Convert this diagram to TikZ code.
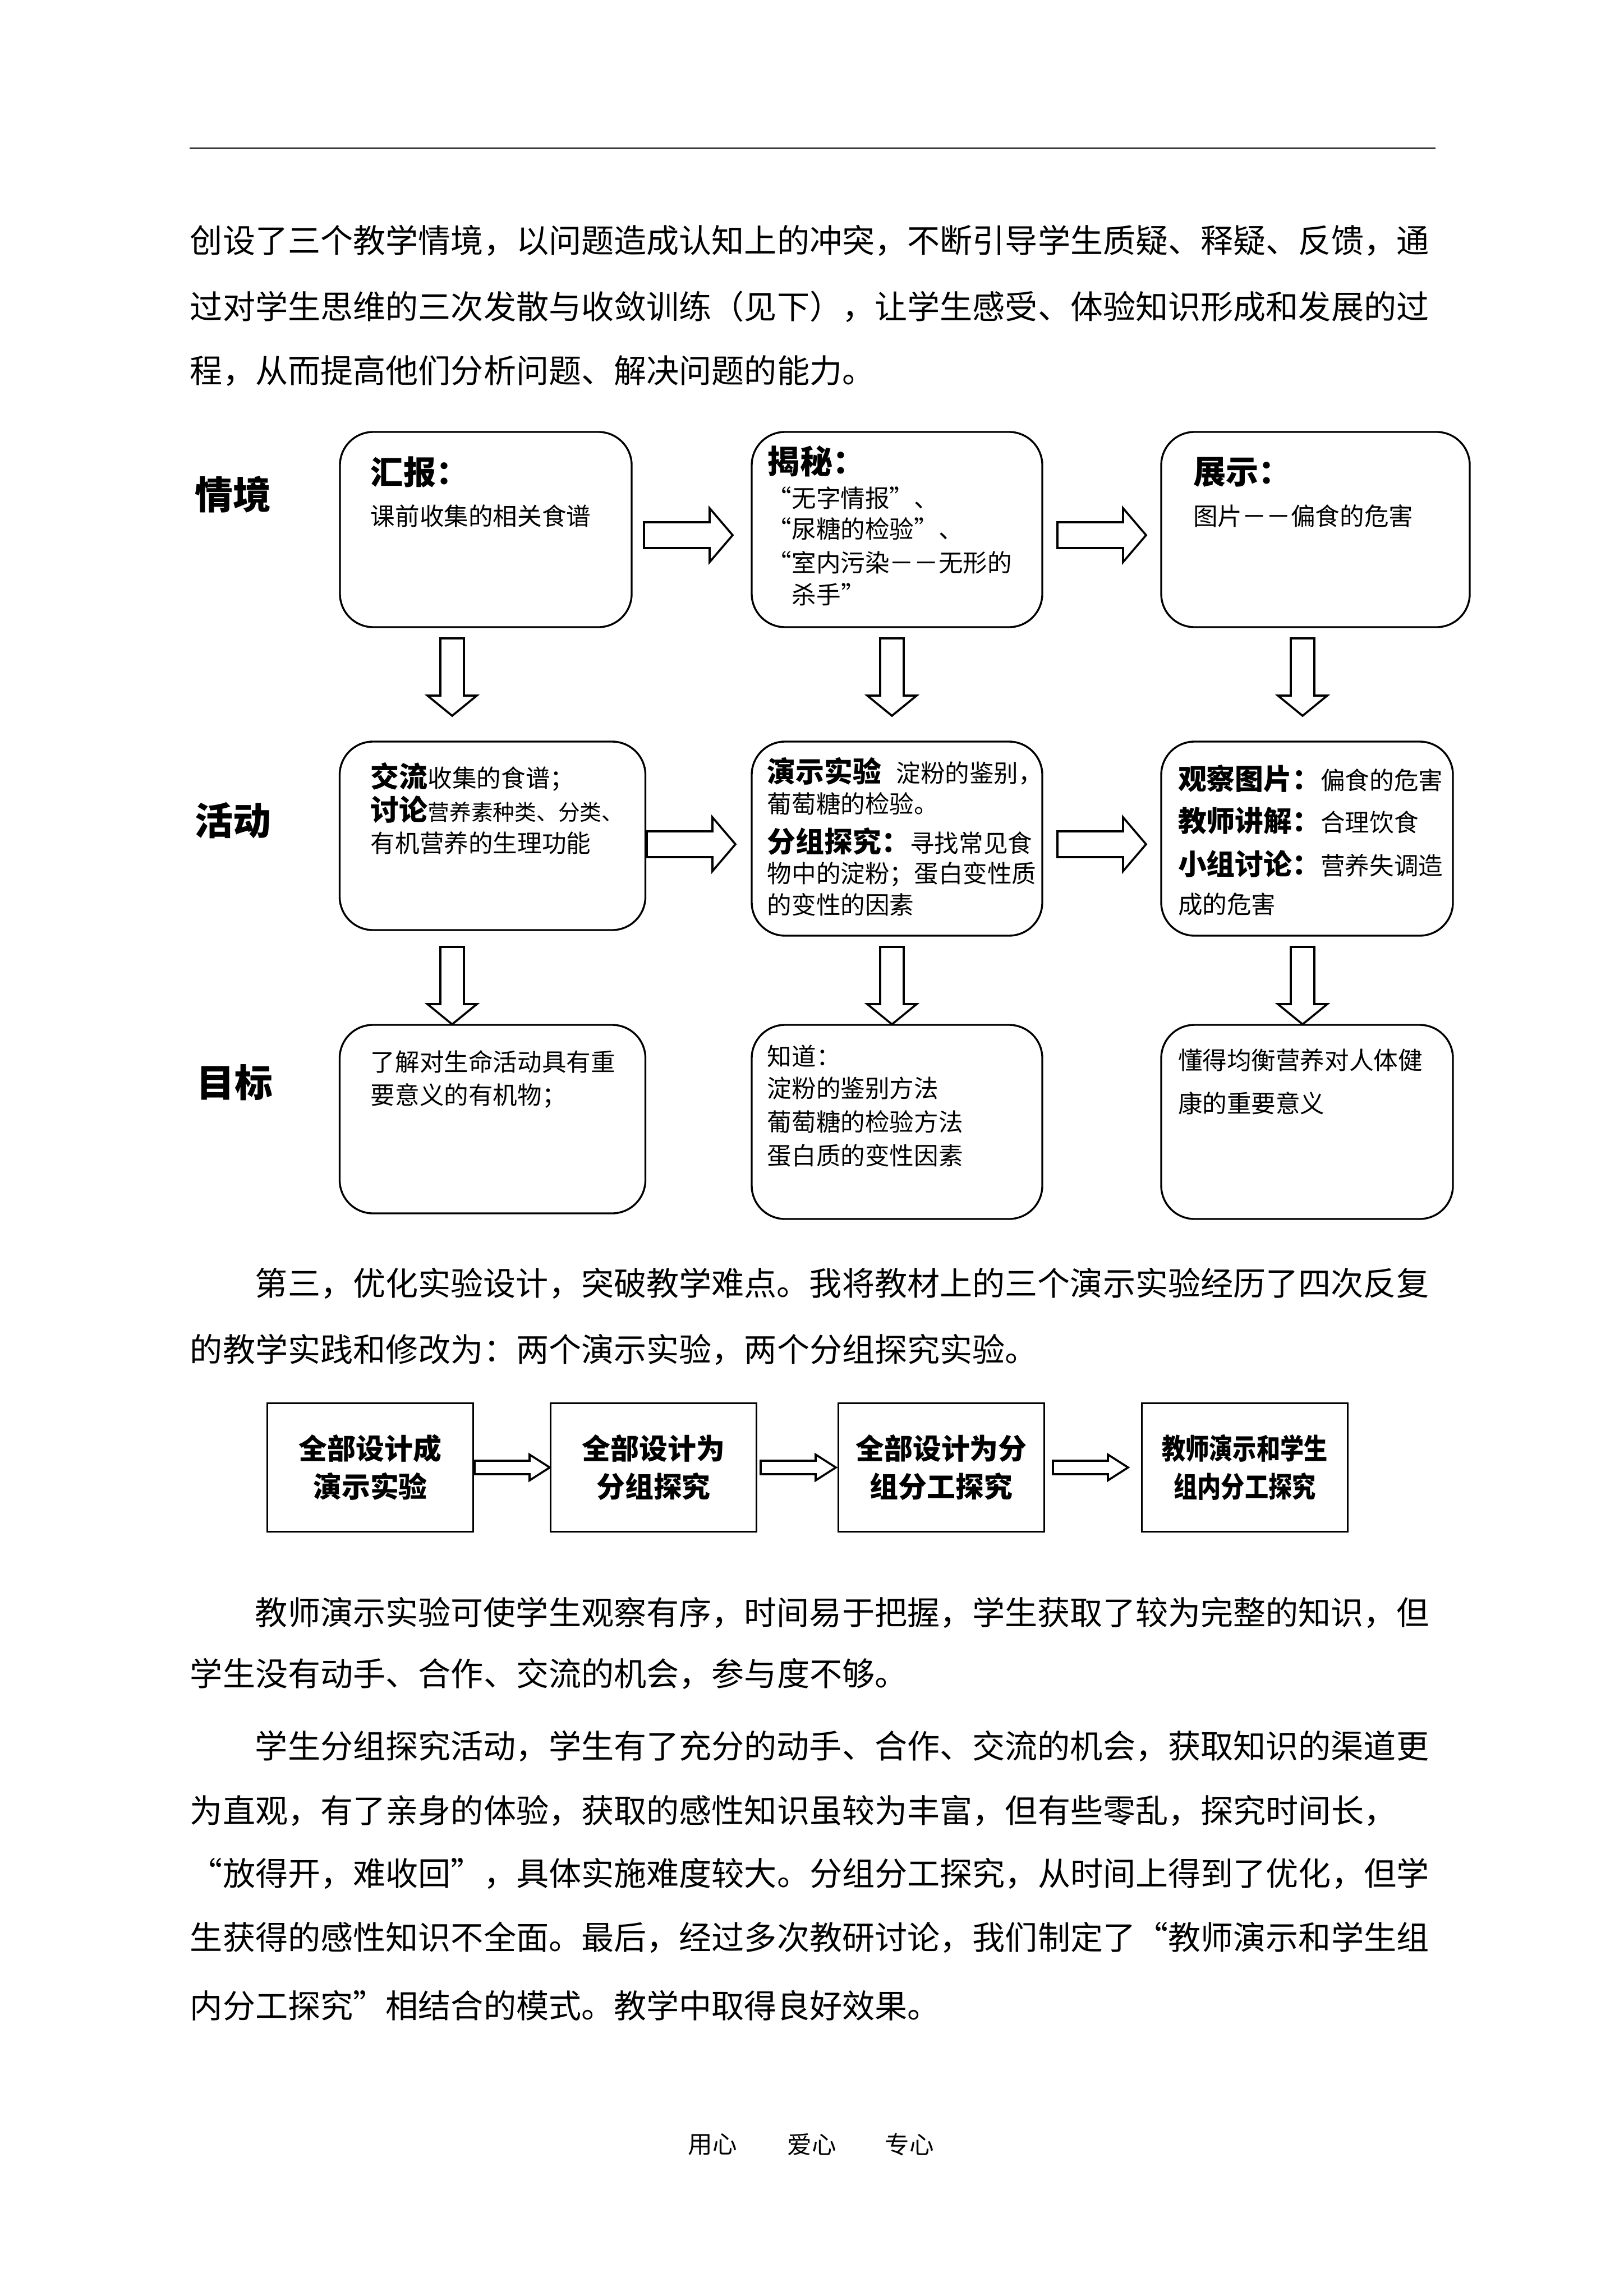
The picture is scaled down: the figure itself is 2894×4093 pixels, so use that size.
\documentclass[tikz,border=0pt]{standalone}
\usepackage{fontspec}
\setmainfont{Noto Sans CJK SC}
\newlength\pxu
\setlength\pxu{0.072564mm}
\tikzstyle{card}=[draw=black,line width=0.7pt,rounded corners=4.3mm,inner sep=0pt]
\tikzstyle{sbox}=[draw=black,line width=0.7pt,inner sep=0pt,align=center,
  font=\bfseries\fontsize{10.5pt}{14pt}\selectfont,
  minimum width=367*\pxu,minimum height=229*\pxu]
\tikzstyle{line}=[anchor=west,inner sep=0pt,font=\fontsize{9pt}{11pt}\selectfont]
\tikzstyle{para}=[anchor=west,inner sep=0pt,font=\fontsize{12pt}{14pt}\selectfont]
\tikzstyle{rowlabel}=[inner sep=0pt,font=\bfseries\fontsize{14pt}{16pt}\selectfont]
\tikzstyle{foot}=[inner sep=0pt,font=\fontsize{9pt}{11pt}\selectfont]
\tikzstyle{blk}=[draw=black,line width=0.75pt,fill=white]
\newcommand\hd[1]{{\bfseries\fontsize{10.5pt}{12pt}\selectfont #1}}
\newcommand\hdl[1]{{\bfseries\fontsize{12pt}{14pt}\selectfont #1}}
\newcommand\lqm{\makebox[1em][r]{“}}
\newcommand\rqm{\makebox[1em][l]{”}}
% hollow block arrows
\newcommand\rblk[2]{\draw[blk] (#1,#2-23) -- (#1+117,#2-23) -- (#1+117,#2-48)
  -- (#1+158,#2) -- (#1+117,#2+48) -- (#1+117,#2+23) -- (#1,#2+23) -- cycle;}
\newcommand\dblk[2]{\draw[blk] (#1-21,#2) -- (#1+21,#2) -- (#1+21,#2+102)
  -- (#1+44,#2+102) -- (#1,#2+138) -- (#1-44,#2+102) -- (#1-21,#2+102) -- cycle;}
\newcommand\sblk[2]{\draw[blk] (#1,#2-12) -- (#1+98,#2-12) -- (#1+98,#2-23)
  -- (#1+134,#2) -- (#1+98,#2+23) -- (#1+98,#2+12) -- (#1,#2+12) -- cycle;}
\begin{document}
\begin{tikzpicture}[x=0.072564mm,y=-0.072564mm]
  \useasboundingbox (0,0) rectangle (2894,4093);
  \draw[line width=0.6pt] (338,264) -- (2559,264);
  % opening paragraph
  \node[para] (p1) at (338,429) {创设了三个教学情境，以问题造成认知上的冲突，不断引导学生质疑、释疑、反馈，通};
  \node[para] (p2) at (338,547) {过对学生思维的三次发散与收敛训练（见下），让学生感受、体验知识形成和发展的过};
  \node[para] (p3) at (338,661) {程，从而提高他们分析问题、解决问题的能力。};
  % row labels
  \node[rowlabel] (qj) at (415,882) {情境};
  \node[rowlabel] (hd) at (415,1463) {活动};
  \node[rowlabel] (mb) at (418,1930) {目标};
  % boxes
  \node[card,minimum width=520*\pxu,minimum height=348*\pxu] (hb) at (866,944) {};
  \node[card,minimum width=518*\pxu,minimum height=348*\pxu] (jm) at (1599,944) {};
  \node[card,minimum width=550*\pxu,minimum height=348*\pxu] (zs) at (2345,944) {};
  \node[card,minimum width=545*\pxu,minimum height=336*\pxu] (jl) at (878,1490) {};
  \node[card,minimum width=518*\pxu,minimum height=346*\pxu] (ys) at (1599,1495) {};
  \node[card,minimum width=520*\pxu,minimum height=346*\pxu] (gc) at (2330,1495) {};
  \node[card,minimum width=545*\pxu,minimum height=336*\pxu] (lj) at (878,1995) {};
  \node[card,minimum width=518*\pxu,minimum height=346*\pxu] (zd) at (1599,2000) {};
  \node[card,minimum width=520*\pxu,minimum height=346*\pxu] (dd) at (2330,2000) {};
  % box texts
  \node[line] (hb1) at (660,842) {\hdl{汇报：}};
  \node[line] (hb2) at (660,920) {课前收集的相关食谱};
  \node[line] (jm1) at (1367,822) {\hdl{揭秘：}};
  \node[line] (jm2) at (1367,888) {\lqm 无字情报\rqm 、};
  \node[line] (jm3) at (1367,943) {\lqm 尿糖的检验\rqm 、};
  \node[line] (jm4) at (1367,1003) {\lqm 室内污染－－无形的};
  \node[line] (jm5) at (1411,1060) {杀手\rqm};
  \node[line] (zs1) at (2126,842) {\hdl{展示：}};
  \node[line] (zs2) at (2126,920) {图片－－偏食的危害};
  \node[line] (jl1) at (660,1385) {\hd{交流}收集的食谱；};
  \node[line] (jl2) at (660,1443) {\hd{讨论}{\fontsize{8pt}{10pt}\selectfont 营养素种类、分类、}};
  \node[line] (jl3) at (660,1503) {有机营养的生理功能};
  \node[line] (ys1) at (1367,1375) {\hd{演示实验}\hspace{0.6em}淀粉的鉴别，};
  \node[line] (ys2) at (1367,1433) {葡萄糖的检验。};
  \node[line] (ys3) at (1367,1500) {\hd{分组探究：}寻找常见食};
  \node[line] (ys4) at (1367,1558) {物中的淀粉；蛋白变性质};
  \node[line] (ys5) at (1367,1613) {的变性的因素};
  \node[line] (gc1) at (2099,1388) {\hd{观察图片：}偏食的危害};
  \node[line] (gc2) at (2099,1463) {\hd{教师讲解：}合理饮食};
  \node[line] (gc3) at (2099,1540) {\hd{小组讨论：}营养失调造};
  \node[line] (gc4) at (2099,1612) {成的危害};
  \node[line] (lj1) at (660,1893) {了解对生命活动具有重};
  \node[line] (lj2) at (660,1953) {要意义的有机物；};
  \node[line] (zd1) at (1367,1883) {知道：};
  \node[line] (zd2) at (1367,1940) {淀粉的鉴别方法};
  \node[line] (zd3) at (1367,2000) {葡萄糖的检验方法};
  \node[line] (zd4) at (1367,2060) {蛋白质的变性因素};
  \node[line] (dd1) at (2099,1890) {懂得均衡营养对人体健};
  \node[line] (dd2) at (2099,1967) {康的重要意义};
  % arrows between the boxes
  \rblk{1148}{954}
  \rblk{1885}{954}
  \rblk{1153}{1505}
  \rblk{1885}{1505}
  \dblk{806}{1138}
  \dblk{1590}{1138}
  \dblk{2322}{1138}
  \dblk{806}{1688}
  \dblk{1590}{1688}
  \dblk{2322}{1688}
  % second paragraph
  \node[para] (q1) at (454,2288) {第三，优化实验设计，突破教学难点。我将教材上的三个演示实验经历了四次反复};
  \node[para] (q2) at (338,2406) {的教学实践和修改为：两个演示实验，两个分组探究实验。};
  % small flow
  \node[sbox] (s1) at (660,2616) {全部设计成\\演示实验};
  \node[sbox] (s2) at (1165,2616) {全部设计为\\分组探究};
  \node[sbox] (s3) at (1678,2616) {全部设计为分\\组分工探究};
  \node[sbox] (s4) at (2219,2616) {\scalebox{0.83}[1]{教师演示和学生}\\\scalebox{0.83}[1]{组内分工探究}};
  \sblk{846}{2616}
  \sblk{1356}{2616}
  \sblk{1877}{2616}
  % closing paragraphs
  \node[para] (r1) at (454,2875) {教师演示实验可使学生观察有序，时间易于把握，学生获取了较为完整的知识，但};
  \node[para] (r2) at (338,2984) {学生没有动手、合作、交流的机会，参与度不够。};
  \node[para] (r3) at (454,3113) {学生分组探究活动，学生有了充分的动手、合作、交流的机会，获取知识的渠道更};
  \node[para] (r4) at (338,3228) {为直观，有了亲身的体验，获取的感性知识虽较为丰富，但有些零乱，探究时间长，};
  \node[para] (r5) at (338,3340) {\lqm 放得开，难收回\rqm ，具体实施难度较大。分组分工探究，从时间上得到了优化，但学};
  \node[para] (r6) at (338,3454) {生获得的感性知识不全面。最后，经过多次教研讨论，我们制定了\lqm 教师演示和学生组};
  \node[para] (r7) at (338,3575) {内分工探究\rqm 相结合的模式。教学中取得良好效果。};
  % footer
  \node[foot] (f1) at (1270,3823) {用心};
  \node[foot] (f2) at (1447,3823) {爱心};
  \node[foot] (f3) at (1621,3823) {专心};
\end{tikzpicture}
\end{document}
